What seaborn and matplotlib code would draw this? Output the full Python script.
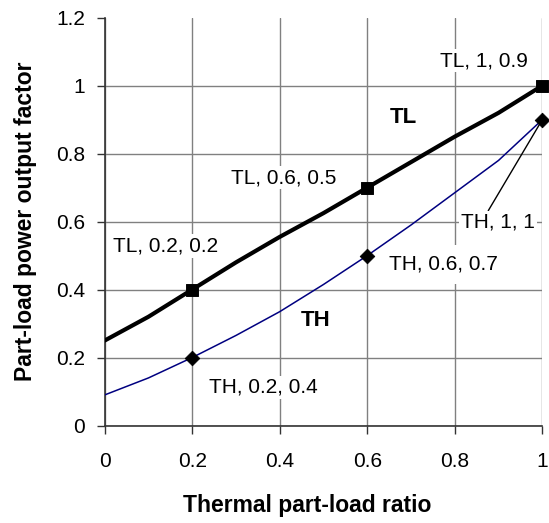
import pandas as pd
import matplotlib.pyplot as plt
import seaborn as sns

# curve values
ratio = [0.0, 0.1, 0.2, 0.3, 0.4, 0.5, 0.6, 0.7, 0.8, 0.9, 1.0]
tl_curve = [0.25, 0.32, 0.40, 0.48, 0.555, 0.625, 0.70, 0.775, 0.85, 0.92, 1.0]
th_curve = [0.09, 0.14, 0.20, 0.265, 0.335, 0.415, 0.50, 0.59, 0.685, 0.78, 0.90]

# marked points
mark_x = [0.2, 0.6, 1.0]
tl_marks = [0.4, 0.7, 1.0]
th_marks = [0.2, 0.5, 0.9]

tl_labels = ["TL, 0.2, 0.2", "TL, 0.6, 0.5", "TL, 1, 0.9"]
th_labels = ["TH, 0.2, 0.4", "TH, 0.6, 0.7", "TH, 1, 1"]

sns.set_style("white")
plt.rcParams["font.family"] = ["Liberation Sans", "DejaVu Sans"]
plt.rcParams["text.color"] = "black"
plt.rcParams["axes.labelcolor"] = "black"
plt.rcParams["xtick.color"] = "black"
plt.rcParams["ytick.color"] = "black"

fig, ax = plt.subplots(figsize=(5.49, 5.23), dpi=100)
fig.subplots_adjust(left=0.1907, right=0.9878, top=0.9662, bottom=0.1864)

df_tl = pd.DataFrame({"x": ratio, "y": tl_curve})
df_th = pd.DataFrame({"x": ratio, "y": th_curve})
sns.lineplot(data=df_tl, x="x", y="y", color="black", linewidth=3, ax=ax, zorder=3)
sns.lineplot(data=df_th, x="x", y="y", color="#000080", linewidth=1.1, ax=ax, zorder=3)

sns.scatterplot(x=mark_x, y=tl_marks, marker="s", s=70, color="black",
                edgecolor="black", ax=ax, zorder=4, clip_on=False)
sns.scatterplot(x=mark_x, y=th_marks, marker="D", s=55, color="black",
                edgecolor="black", ax=ax, zorder=4, clip_on=False)

ax.set_xlim(0, 1)
ax.set_ylim(0, 1.2)
ax.set_xticks([0, 0.2, 0.4, 0.6, 0.8, 1])
ax.set_xticklabels(["0", "0.2", "0.4", "0.6", "0.8", "1"])
ax.set_yticks([0, 0.2, 0.4, 0.6, 0.8, 1, 1.2])
ax.set_yticklabels(["0", "0.2", "0.4", "0.6", "0.8", "1", "1.2"])
ax.tick_params(axis="both", labelsize=15, direction="out", length=6,
               width=1, color="#333333", pad=8, bottom=True, left=True)
ax.tick_params(axis="x", pad=13)

ax.grid(True, color="#808080", linewidth=1)
ax.get_ygridlines()[-1].set_visible(False)
ax.set_axisbelow(True)
for side in ["top", "right"]:
    ax.spines[side].set_visible(False)
for side in ["left", "bottom"]:
    ax.spines[side].set_color("#333333")
    ax.spines[side].set_linewidth(1.2)

ax.set_xlabel("Thermal part-load ratio", fontsize=16.5, fontweight="bold")
ax.xaxis.set_label_coords(0.462, -0.168)
ax.set_ylabel("Part-load power output factor", fontsize=16.5, fontweight="bold", labelpad=14)

# label boxes sit above the grid but under the curves
box = dict(facecolor="white", edgecolor="none", pad=1.5)
fs = 15
ax.text(0.140, 0.528, tl_labels[0], fontsize=fs, ha="center", va="center", bbox=box, zorder=2)
ax.text(0.409, 0.729, tl_labels[1], fontsize=fs, ha="center", va="center", bbox=box, zorder=2)
ax.text(0.867, 1.073, tl_labels[2], fontsize=fs, ha="center", va="center", bbox=box, zorder=2)
ax.text(0.363, 0.112, th_labels[0], fontsize=fs, ha="center", va="center", bbox=box, zorder=2)
ax.text(0.773, 0.474, th_labels[1], fontsize=fs, ha="center", va="center", zorder=2,
        bbox=dict(boxstyle="square,pad=0.5", facecolor="white", edgecolor="none"))
ax.annotate(th_labels[2], xy=(1.0, 0.9), xytext=(0.899, 0.598), fontsize=fs,
            ha="center", va="center", bbox=box, zorder=2,
            arrowprops=dict(arrowstyle="-", color="black", lw=1,
                            shrinkA=0, shrinkB=3, relpos=(0.35, 1.0)))

ax.text(0.683, 0.906, "TL", fontsize=16, fontweight="bold", ha="center", va="center")
ax.text(0.483, 0.308, "TH", fontsize=16, fontweight="bold", ha="center", va="center")

fig.savefig("out.png", dpi=100)
